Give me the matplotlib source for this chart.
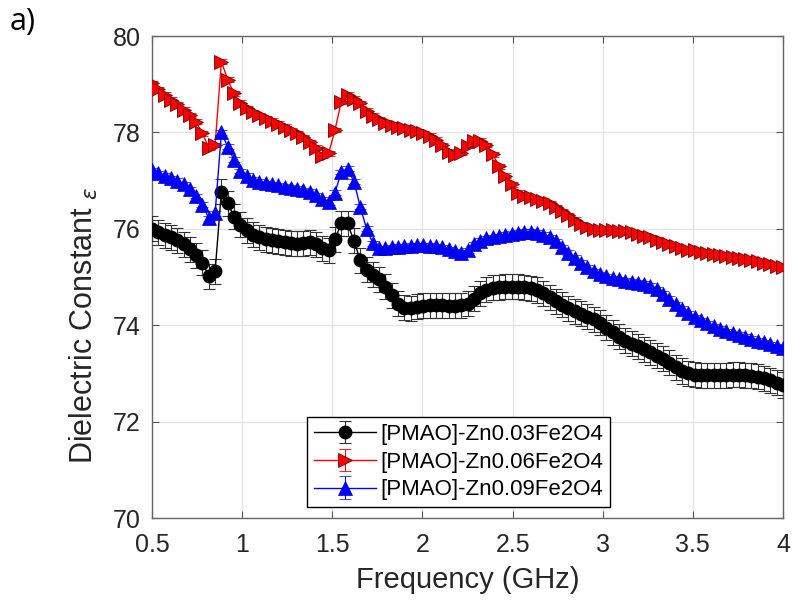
import numpy as np
import matplotlib
matplotlib.use("Agg")
from matplotlib import pyplot as plt

plt.rcParams['font.family'] = ['Liberation Sans', 'DejaVu Sans']
plt.rcParams['mathtext.fontset'] = 'dejavusans'

# frequency grid (GHz), 101 points from 0.5 to 4.0
freq = np.round(np.linspace(0.5, 4.0, 101), 3)

zn003 = [76.00, 75.93, 75.87, 75.82, 75.76, 75.68, 75.58, 75.45, 75.30, 75.02,
         75.12, 76.77, 76.53, 76.25, 76.08, 75.97, 75.88, 75.82, 75.78, 75.76,
         75.74, 75.72, 75.70, 75.69, 75.70, 75.72, 75.68, 75.60, 75.55, 75.78,
         76.11, 76.11, 75.75, 75.35, 75.15, 75.05, 74.95, 74.80, 74.62, 74.45,
         74.36, 74.35, 74.38, 74.40, 74.41, 74.41, 74.41, 74.40, 74.40, 74.41,
         74.45, 74.55, 74.66, 74.74, 74.78, 74.79, 74.80, 74.80, 74.80, 74.79,
         74.77, 74.73, 74.66, 74.58, 74.50, 74.42, 74.35, 74.29, 74.24, 74.18,
         74.12, 74.05, 73.95, 73.85, 73.76, 73.68, 73.62, 73.56, 73.50, 73.44,
         73.37, 73.30, 73.22, 73.13, 73.05, 73.00, 72.97, 72.96, 72.96, 72.96,
         72.96, 72.96, 72.97, 72.97, 72.96, 72.95, 72.93, 72.90, 72.86, 72.81,
         72.76]

zn006 = [79.02, 78.90, 78.78, 78.68, 78.58, 78.47, 78.36, 78.22, 77.98, 77.68,
         77.74, 79.47, 79.09, 78.81, 78.62, 78.50, 78.42, 78.36, 78.30, 78.24,
         78.18, 78.12, 78.05, 77.98, 77.90, 77.80, 77.68, 77.52, 77.57, 78.05,
         78.64, 78.78, 78.70, 78.60, 78.45, 78.35, 78.27, 78.20, 78.16, 78.12,
         78.10, 78.06, 78.02, 77.98, 77.93, 77.85, 77.74, 77.60, 77.53, 77.58,
         77.72, 77.82, 77.83, 77.74, 77.55, 77.30, 77.10, 76.92, 76.75, 76.68,
         76.65, 76.62, 76.58, 76.53, 76.45, 76.37, 76.28, 76.19, 76.10, 76.03,
         75.99, 75.97, 75.97, 75.97, 75.96, 75.95, 75.93, 75.90, 75.86, 75.82,
         75.77, 75.72, 75.68, 75.64, 75.60, 75.57, 75.55, 75.52, 75.50, 75.48,
         75.46, 75.44, 75.42, 75.40, 75.38, 75.36, 75.33, 75.30, 75.27, 75.23,
         75.20]

zn009 = [77.22, 77.15, 77.10, 77.05, 77.00, 76.93, 76.82, 76.68, 76.50, 76.22,
         76.32, 78.00, 77.70, 77.43, 77.20, 77.10, 77.02, 76.98, 76.95, 76.92,
         76.90, 76.87, 76.85, 76.83, 76.80, 76.77, 76.70, 76.62, 76.55, 76.75,
         77.18, 77.25, 76.98, 76.46, 76.00, 75.70, 75.60, 75.60, 75.62, 75.63,
         75.64, 75.65, 75.66, 75.66, 75.65, 75.64, 75.62, 75.58, 75.53, 75.50,
         75.55, 75.68, 75.75, 75.80, 75.83, 75.85, 75.88, 75.90, 75.92, 75.94,
         75.94, 75.92, 75.88, 75.82, 75.74, 75.62, 75.50, 75.40, 75.30, 75.20,
         75.12, 75.06, 75.02, 74.98, 74.95, 74.92, 74.90, 74.88, 74.86, 74.82,
         74.75, 74.65, 74.55, 74.44, 74.34, 74.25, 74.17, 74.10, 74.04, 73.98,
         73.93, 73.88, 73.84, 73.80, 73.76, 73.72, 73.68, 73.65, 73.61, 73.57,
         73.53]

# error bar half widths
err003 = 0.26
err006 = 0.05
err009 = 0.05

labels = ['[PMAO]-Zn0.03Fe2O4', '[PMAO]-Zn0.06Fe2O4', '[PMAO]-Zn0.09Fe2O4']

fig = plt.figure(figsize=(7.94, 6.07), dpi=100)
ax = fig.add_axes([152/794, 1 - 518/607, 631/794, 482/607])

ax.errorbar(freq, zn003, yerr=err003, color='black', ecolor='#333333', elinewidth=0.8,
            capsize=4, capthick=0.8, marker='o', markersize=9, lw=1,
            label=labels[0], zorder=3)
ax.errorbar(freq, zn006, yerr=err006, color='#ff0000', ecolor='#ff0000', elinewidth=0.8,
            capsize=4, capthick=0.8, marker='>', markersize=9.5, mfc='#ff0000',
            mec='#700000', mew=0.6, lw=1, label=labels[1], zorder=4)
ax.errorbar(freq, zn009, yerr=err009, color='#0000ff', ecolor='#0000ff', elinewidth=0.8,
            capsize=4, capthick=0.8, marker='^', markersize=9.5, mfc='#0000ff',
            mec='#0000cc', mew=0.5, lw=1, label=labels[2], zorder=5)

ax.set_xlim(0.5, 4)
ax.set_ylim(70, 80)
ax.set_xticks([0.5, 1, 1.5, 2, 2.5, 3, 3.5, 4])
ax.set_xticklabels(['0.5', '1', '1.5', '2', '2.5', '3', '3.5', '4'])
ax.set_yticks([70, 72, 74, 76, 78, 80])
ax.grid(True, color='#e3e3e3', lw=0.9)
ax.set_axisbelow(True)
ax.tick_params(direction='in', top=True, right=True, length=5, width=0.8,
               colors='#555555', labelcolor='#262626', labelsize=18)
ax.tick_params(axis='x', pad=11)
ax.tick_params(axis='y', pad=8)
for s in ax.spines.values():
    s.set_color('#666666')
    s.set_linewidth(1)

ax.set_xlabel('Frequency (GHz)', fontsize=21, color='#262626', labelpad=6)
ax.set_ylabel(r'Dielectric Constant $_\epsilon$', fontsize=22, color='#262626')
ax.yaxis.set_label_coords(-0.083, 0.40)

leg = ax.legend(loc='lower left', bbox_to_anchor=(0.2456, 0.0228), borderaxespad=0,
                fontsize=16, frameon=True, fancybox=False, framealpha=1,
                edgecolor='black', handlelength=2.8, handletextpad=0.2,
                labelspacing=0.3, borderpad=0.3)
leg.get_frame().set_linewidth(1)

fig.text(0.012, 0.988, 'a)', fontsize=22, ha='left', va='top', family='Open Sans')

fig.savefig('out.png', dpi=100)
